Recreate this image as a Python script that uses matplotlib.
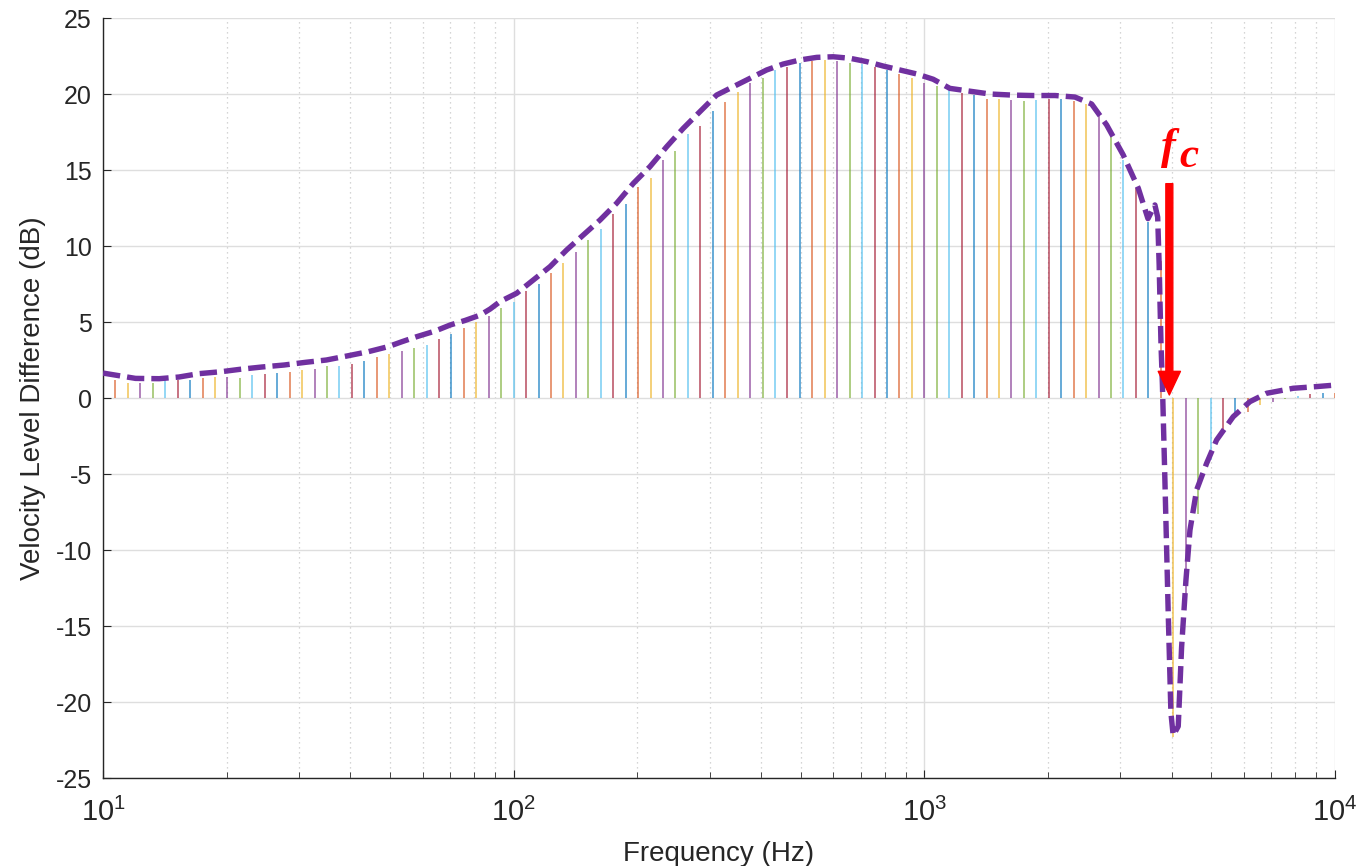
import numpy as np
import matplotlib.pyplot as plt
from matplotlib.patches import FancyArrowPatch
from matplotlib.ticker import LogLocator, MultipleLocator, NullFormatter

plt.rcParams['font.family'] = ['Liberation Sans', 'DejaVu Sans']
plt.rcParams['mathtext.fontset'] = 'custom'
plt.rcParams['mathtext.rm'] = 'Liberation Sans'
plt.rcParams['mathtext.it'] = 'Liberation Sans:italic'
plt.rcParams['mathtext.bf'] = 'Liberation Sans:bold'
plt.rcParams['axes.unicode_minus'] = False

# band centre frequencies (Hz)
band_freq = [10.0, 10.72, 11.50, 12.33, 13.22, 14.17, 15.20, 16.30, 17.47, 18.74,
             20.09, 21.54, 23.10, 24.77, 26.56, 28.48, 30.54, 32.74, 35.11, 37.65,
             40.37, 43.29, 46.42, 49.77, 53.37, 57.22, 61.36, 65.79, 70.55, 75.65,
             81.11, 86.97, 93.26, 100, 107.2, 115.0, 123.3, 132.2, 141.8, 152.0,
             163.0, 174.7, 187.4, 200.9, 215.4, 231.0, 247.7, 265.6, 284.8, 305.4,
             327.4, 351.1, 376.5, 403.7, 432.9, 464.2, 497.7, 533.7, 572.2, 613.6,
             657.9, 705.5, 756.5, 811.1, 869.7, 932.6, 1000, 1072, 1150, 1233,
             1322, 1418, 1520, 1630, 1747, 1874, 2009, 2154, 2310, 2477,
             2656, 2848, 3054, 3274, 3511, 3765, 4037, 4329, 4642, 4977,
             5337, 5722, 6136, 6579, 7055, 7565, 8111, 8697, 9326, 10000]

# level difference per band (dB)
band_level = [1.30, 1.18, 0.96, 0.96, 1.00, 1.23, 1.18, 1.18, 1.30, 1.40,
              1.37, 1.30, 1.51, 1.58, 1.62, 1.69, 1.84, 1.89, 2.13, 2.13,
              2.24, 2.46, 2.68, 2.89, 3.11, 3.31, 3.49, 3.88, 4.19, 4.58,
              4.98, 5.39, 5.94, 6.34, 7.05, 7.50, 8.25, 8.90, 9.58, 10.39,
              11.10, 12.08, 12.76, 13.90, 14.50, 15.66, 16.25, 17.37, 17.90, 18.90,
              19.45, 20.10, 20.74, 21.03, 21.58, 21.76, 22.06, 22.20, 22.24, 22.20,
              22.06, 21.97, 21.76, 21.58, 21.30, 21.03, 20.74, 20.50, 20.30, 20.05,
              19.93, 19.70, 19.65, 19.60, 19.56, 19.60, 19.65, 19.65, 19.56, 19.34,
              18.73, 17.41, 15.66, 13.80, 11.60, 9.00, -22.30, -13.50, -7.60, -4.08,
              -2.30, -1.23, -0.90, -0.46, -0.24, -0.05, 0.10, 0.25, 0.30, 0.35]

# smoothed envelope
env_freq = [10, 10.7, 12.0, 13.7, 15.3, 17.1, 19.4, 21.6, 24.4, 27.6,
            31.2, 35.0, 39.2, 44.3, 49.5, 53.4, 58.0, 64.3, 70.0, 76.1,
            82.8, 87.6, 92.6, 101.7, 111.6, 122.6, 134.6, 147.7, 162.3, 178.1,
            195.6, 214.7, 235.8, 258.8, 284.2, 312.0, 342.5, 376.2, 413, 453,
            498, 547, 600, 659, 724, 794, 872, 958, 1051, 1154,
            1233, 1444, 1632, 1825, 2080, 2326, 2555, 2780, 3050, 3319,
            3504, 3643, 3700, 3731, 3750, 3770, 3800, 3853, 3925, 3985,
            4036, 4152, 4231, 4335, 4434, 4603, 4868, 5149, 5651, 6206,
            6815, 7911, 9017, 10000]
env_level = [1.64, 1.51, 1.29, 1.27, 1.38, 1.60, 1.73, 1.89, 2.04, 2.17,
             2.35, 2.50, 2.76, 3.05, 3.38, 3.70, 4.03, 4.40, 4.80, 5.10,
             5.45, 5.85, 6.34, 6.89, 7.76, 8.64, 9.74, 10.72, 11.71, 12.81,
             14.12, 15.22, 16.53, 17.74, 18.84, 19.93, 20.48, 21.03, 21.58, 21.97,
             22.24, 22.41, 22.45, 22.35, 22.13, 21.84, 21.58, 21.32, 20.97, 20.37,
             20.26, 20.00, 19.93, 19.90, 19.90, 19.80, 19.34, 17.96, 15.99, 13.80,
             11.80, 12.70, 11.90, 8.75, 6.10, 3.50, 0.85, -5.40, -14.10, -20.70,
             -22.20, -21.60, -16.40, -12.00, -8.70, -6.05, -4.30, -2.76, -1.23, -0.24,
             0.31, 0.64, 0.75, 0.85]

fc = 3950
fc_top = 14.1
fc_tip = 0.2

matlab_colors = ['#0072BD', '#D95319', '#EDB120', '#7E2F8E',
                 '#77AC30', '#4DBEEE', '#A2142F']
axis_col = '#262626'

fig = plt.figure(figsize=(13.61, 8.66), dpi=100)
ax = fig.add_axes([103 / 1361, 88 / 866, 1232 / 1361, 760 / 866])

stem_cols = [matlab_colors[i % 7] for i in range(len(band_freq))]
ax.vlines(band_freq, 0, band_level, colors=stem_cols, lw=1.3, alpha=0.65, zorder=2)

ax.plot(env_freq, env_level, color='#7030A0', lw=3.9, ls='--',
        dashes=(3.2, 1.3), zorder=3)

arrow = FancyArrowPatch((fc, fc_top), (fc, fc_tip),
                        arrowstyle='simple,head_length=17,head_width=16,tail_width=5',
                        mutation_scale=1, color='red', shrinkA=0, shrinkB=0, zorder=4)
ax.add_patch(arrow)
ax.annotate('f', xy=(fc, fc_top), xytext=(-6, 17.5), textcoords='offset points',
            ha='left', va='baseline', color='red', fontsize=32,
            family='Liberation Serif', style='italic', weight='bold')
ax.annotate('c', xy=(fc, fc_top), xytext=(7.5, 12), textcoords='offset points',
            ha='left', va='baseline', color='red', fontsize=31,
            family='Liberation Serif', style='italic', weight='bold')

ax.set_xscale('log')
ax.set_xlim(10, 1e4)
ax.set_ylim(-25, 25)
ax.yaxis.set_major_locator(MultipleLocator(5))
ax.xaxis.set_major_locator(LogLocator(base=10, numticks=10))
ax.xaxis.set_minor_locator(LogLocator(base=10, subs=np.arange(2, 10), numticks=20))
ax.xaxis.set_minor_formatter(NullFormatter())

ax.grid(True, which='major', color='#dedede', lw=1.0, zorder=0)
ax.grid(True, which='minor', axis='x', color='#c8c8c8', lw=0.9, ls=(0, (1, 3)), zorder=0)
ax.set_axisbelow(True)

for s in ['top', 'right']:
    ax.spines[s].set_visible(False)
for s in ['left', 'bottom']:
    ax.spines[s].set_color(axis_col)
    ax.spines[s].set_linewidth(1.0)

ax.tick_params(which='both', direction='in', colors=axis_col, labelsize=18)
ax.tick_params(which='major', length=6)
ax.tick_params(which='minor', length=4)
ax.tick_params(axis='y', pad=8)
ax.tick_params(axis='x', pad=14, labelsize=21)

ax.set_xlabel('Frequency (Hz)', fontsize=20, color=axis_col, labelpad=10)
ax.set_ylabel('Velocity Level Difference (dB)', fontsize=20, color=axis_col, labelpad=7)

fig.savefig('out.png', dpi=100)
